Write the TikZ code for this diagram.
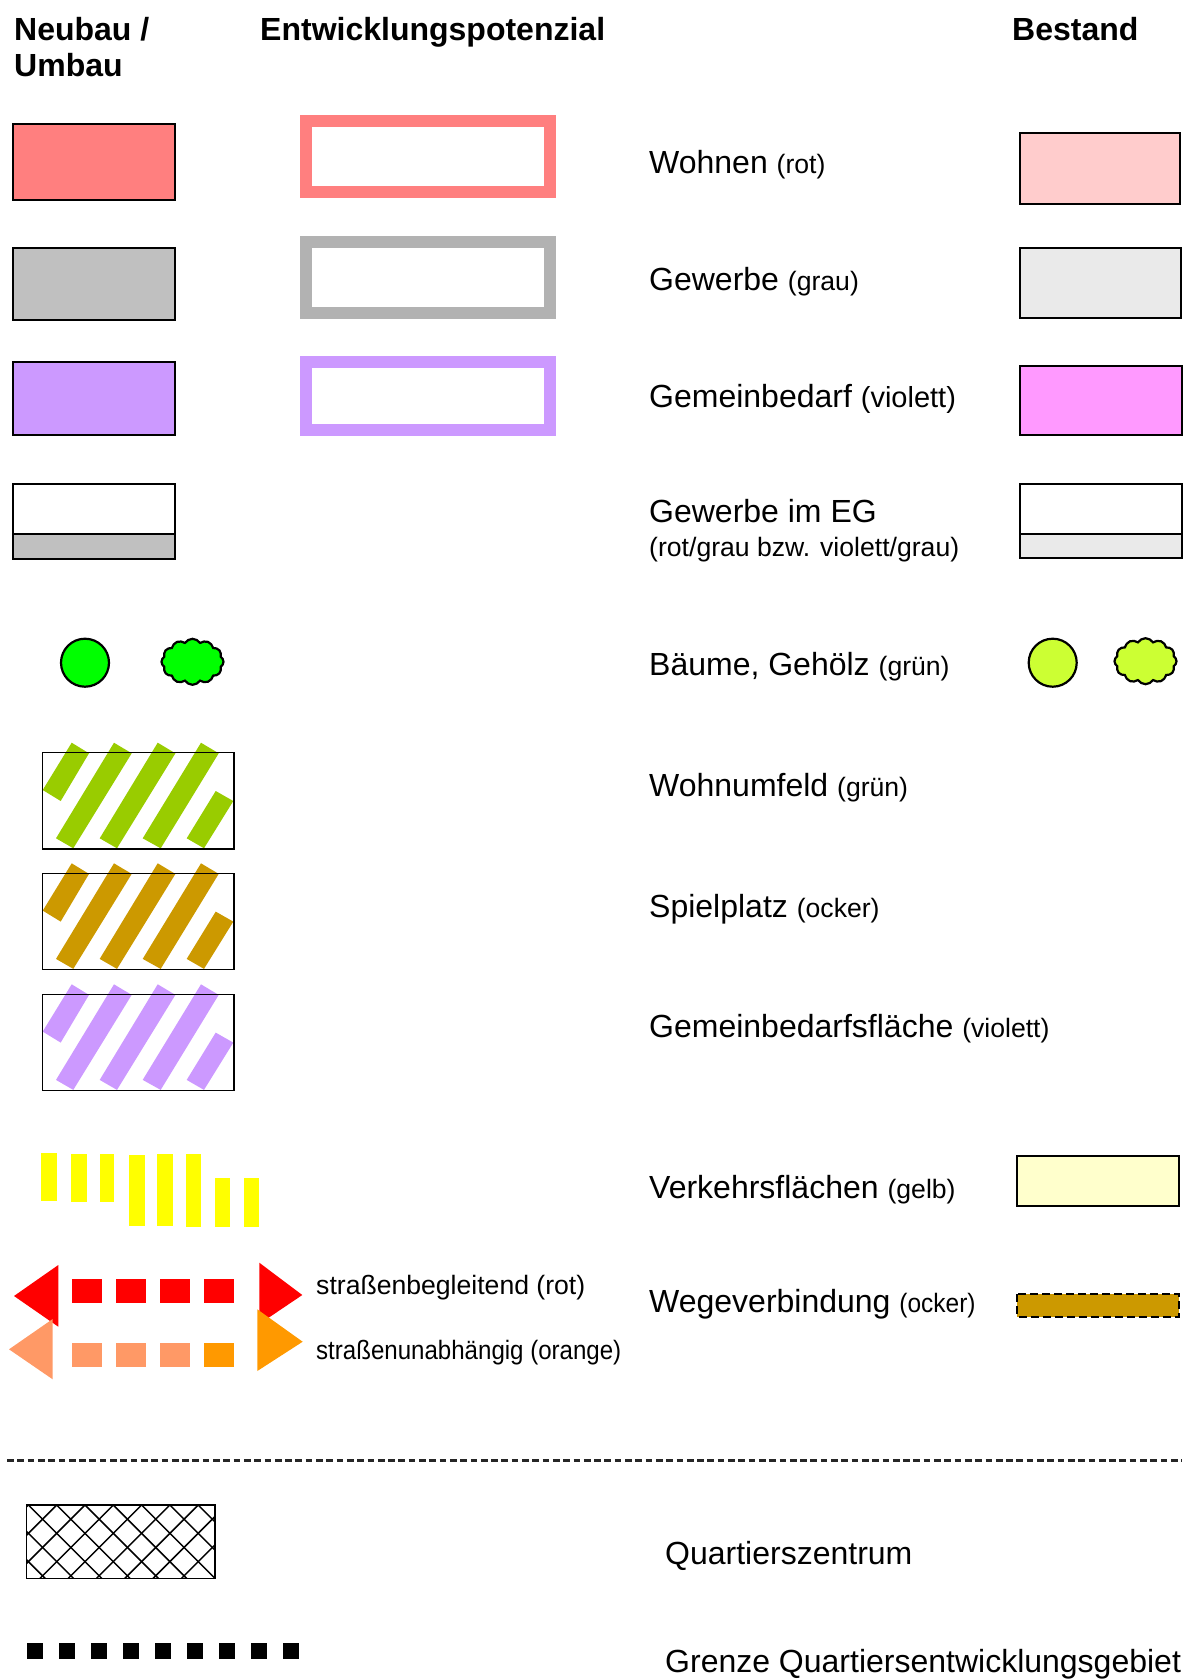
\documentclass[tikz,border=0pt]{standalone}
\usepackage{graphicx}
\usepackage{fontspec}
\setmainfont{Liberation Sans}
\usetikzlibrary{shapes.symbols}
\definecolor{wohnenN}{HTML}{FF7F7F}
\definecolor{wohnenB}{HTML}{FFCCCC}
\definecolor{gewerbeN}{HTML}{C0C0C0}
\definecolor{gewerbeE}{HTML}{B2B2B2}
\definecolor{gewerbeB}{HTML}{EAEAEA}
\definecolor{violett}{HTML}{CC99FF}
\definecolor{gembedB}{HTML}{FF99FF}
\definecolor{baumN}{HTML}{00FF00}
\definecolor{baumB}{HTML}{CCFF33}
\definecolor{gruen}{HTML}{99CC00}
\definecolor{ocker}{HTML}{CC9900}
\definecolor{gelb}{HTML}{FFFF00}
\definecolor{gelbB}{HTML}{FFFFCC}
\definecolor{lachs}{HTML}{FF9966}
\definecolor{orangeW}{HTML}{FF9900}
\newcommand{\lblsmall}{\fontsize{26.6}{31}\selectfont}
\tikzset{
  lbl/.style={anchor=base west, inner sep=0pt, font=\fontsize{32}{37}\selectfont},
  sublbl/.style={anchor=base west, inner sep=0pt, font=\lblsmall},
  hdr/.style={anchor=base west, inner sep=0pt, font=\fontsize{32}{36}\selectfont\bfseries},
  legbox/.style={draw=black, line width=2pt},
  potbox/.style={line width=12pt},
  treecircle/.style={circle, draw=black, line width=2.2pt, minimum size=48pt, inner sep=0pt},
  shrub/.style={cloud, cloud puffs=12, cloud puff arc=115, aspect=1.37, draw=black, line width=2.2pt,
    minimum width=62pt, minimum height=46pt, inner sep=0pt},
  hatchbox/.style={draw=black, line width=1.5pt},
}
% diagonal stripes inside a framed field, relative to its upper left corner
\newcommand{\stripefield}[3]{%
  \begin{scope}[shift={(#1,#2)}]
    \fill[#3] (29,-10) -- (46.3,0.6) -- (18,48.3) -- (0,37.3) -- cycle;
    \fill[#3] (71.3,-10) -- (89,0.6) -- (30.6,95.6) -- (13.3,85.6) -- cycle;
    \fill[#3] (115,-10) -- (132.7,0.6) -- (74.3,95.6) -- (57,85.6) -- cycle;
    \fill[#3] (158.3,-10) -- (176,0.6) -- (118,95.6) -- (100,85.6) -- cycle;
    \fill[#3] (173,38.3) -- (190.6,48.3) -- (161.3,95.6) -- (144,85.6) -- cycle;
    \draw[hatchbox] (0,0) rectangle (191.3,96.3);
  \end{scope}}
\begin{document}
\begin{tikzpicture}[x=1pt, y=-1pt]
\useasboundingbox (0,0) rectangle (1184,1679);

% column headings
\node[hdr] (h1) at (14,40) {Neubau /};
\node[hdr] (h2) at (14,76) {Umbau};
\node[hdr] (h3) at (260,40) {Entwicklungspotenzial};
\node[hdr] (h4) at (1012,40) {Bestand};

% Wohnen
\draw[legbox, fill=wohnenN] (13,124) rectangle (175,200);
\draw[potbox, draw=wohnenN] (305.7,120.5) rectangle (549.6,192);
\node[lbl] (t1) at (649,173) {Wohnen {\lblsmall(rot)}};
\draw[legbox, fill=wohnenB] (1019.5,132.7) rectangle (1180.3,203.7);

% Gewerbe
\draw[legbox, fill=gewerbeN] (13,247.7) rectangle (175,319.7);
\draw[potbox, draw=gewerbeE] (305.7,241.7) rectangle (549.6,313.3);
\node[lbl] (t2) at (649,290) {Gewerbe {\lblsmall(grau)}};
\draw[legbox, fill=gewerbeB] (1020,247.7) rectangle (1181,318.3);

% Gemeinbedarf
\draw[legbox, fill=violett] (13,361.7) rectangle (175,435);
\draw[potbox, draw=violett] (305.7,362.3) rectangle (549.6,429.7);
\node[lbl] (t3) at (649,407) {Gemeinbedarf {\fontsize{29}{33}\selectfont(violett)}};
\draw[legbox, fill=gembedB] (1020.3,366) rectangle (1181.7,435);

% Gewerbe im EG
\draw[legbox, fill=white] (13,484) rectangle (175,534);
\draw[legbox, fill=gewerbeN] (13,534) rectangle (175,558.7);
\node[lbl] (t4) at (649,522) {Gewerbe im EG};
\node[sublbl] (t4b) at (649,556) {(rot/grau bzw. violett/grau)};
\draw[legbox, fill=white] (1020.3,484.3) rectangle (1181.7,533.7);
\draw[legbox, fill=gewerbeB] (1020.3,533.7) rectangle (1181.7,557.7);

% Baeume, Gehoelz
\node[treecircle, fill=baumN] (b1) at (85,662.7) {};
\node[shrub, fill=baumN] (g1) at (192.5,661.8) {};
\node[lbl] (t5) at (649,675) {Bäume, Gehölz {\lblsmall(grün)}};
\node[treecircle, fill=baumB] (b2) at (1052.7,662.7) {};
\node[shrub, fill=baumB] (g2) at (1145.5,661.2) {};

% Freiflaechen
\stripefield{42.7}{752.7}{gruen}
\node[lbl] (t6) at (649,796) {Wohnumfeld {\lblsmall(grün)}};
\stripefield{42.7}{873.3}{ocker}
\node[lbl] (t7) at (649,917) {Spielplatz {\lblsmall(ocker)}};
\stripefield{42.7}{994.3}{violett}
\node[lbl] (t8) at (649,1037) {Gemeinbedarfsfläche {\lblsmall(violett)}};

% Verkehrsflaechen
\fill[gelb] (41,1153) rectangle (57,1201);
\fill[gelb] (71,1154) rectangle (87,1201.7);
\fill[gelb] (100,1154) rectangle (113.7,1201.7);
\fill[gelb] (129,1155) rectangle (145,1225.7);
\fill[gelb] (157,1154) rectangle (173,1225.7);
\fill[gelb] (186,1154) rectangle (201,1226.7);
\fill[gelb] (215,1178) rectangle (230,1226.7);
\fill[gelb] (244,1178) rectangle (259,1226.7);
\node[lbl] (t9) at (649,1198) {Verkehrsflächen {\lblsmall(gelb)}};
\draw[legbox, fill=gelbB] (1017.3,1156) rectangle (1178.7,1206);

% Wegeverbindungen
\fill[red] (14,1296) -- (58.3,1265) -- (58.3,1326.7) -- cycle;
\foreach \xa in {71.7,116,160,204} \fill[red] (\xa,1279.3) rectangle ++(30,24);
\fill[red] (259.3,1262.7) -- (302.3,1295) -- (259.3,1324) -- cycle;
\fill[lachs] (9,1349.3) -- (52.7,1319) -- (52.7,1379.3) -- cycle;
\foreach \xa in {71.7,116,160} \fill[lachs] (\xa,1343.3) rectangle ++(30,24);
\fill[orangeW] (204,1343.3) rectangle ++(30,24);
\fill[orangeW] (257.3,1309.3) -- (302.7,1341.7) -- (257.3,1371) -- cycle;
\node[sublbl] (s1) at (316,1294) {straßenbegleitend (rot)};
\node[sublbl] (s2) at (316,1359.6) {\scalebox{0.905}[1]{straßenunabhängig (orange)}};
\node[lbl] (t10) at (649,1312) {Wegeverbindung {\lblsmall\scalebox{0.92}[1]{(ocker)}}};
\draw[fill=ocker, draw=black, line width=2pt, dash pattern=on 8pt off 4pt] (1017.3,1294) rectangle (1178.7,1316.7);

% Trennlinie
\draw[line width=3pt, black!85, dash pattern=on 6.7pt off 3.6pt] (7,1460) -- (1182,1460);

% Quartierszentrum
\begin{scope}
  \clip (26.7,1505) rectangle (215,1578.7);
  \foreach \k in {-4,...,7} {
    \draw[line width=1.5pt] ({56.7+28.3*\k},1505) -- ++(73.7,73.7);
    \draw[line width=1.5pt] ({56.7+28.3*\k},1505) -- ++(-73.7,73.7);
  }
\end{scope}
\draw[hatchbox] (26.7,1505) rectangle (215,1578.7);
\node[lbl] (t11) at (665,1564) {Quartierszentrum};

% Grenze Quartiersentwicklungsgebiet
\foreach \k in {0,...,8} \fill[black] ({27.3+32*\k},1643.3) rectangle ++(16,15.7);
\node[lbl] (t12) at (665,1672) {Grenze Quartiersentwicklungsgebiet};
\end{tikzpicture}
\end{document}
